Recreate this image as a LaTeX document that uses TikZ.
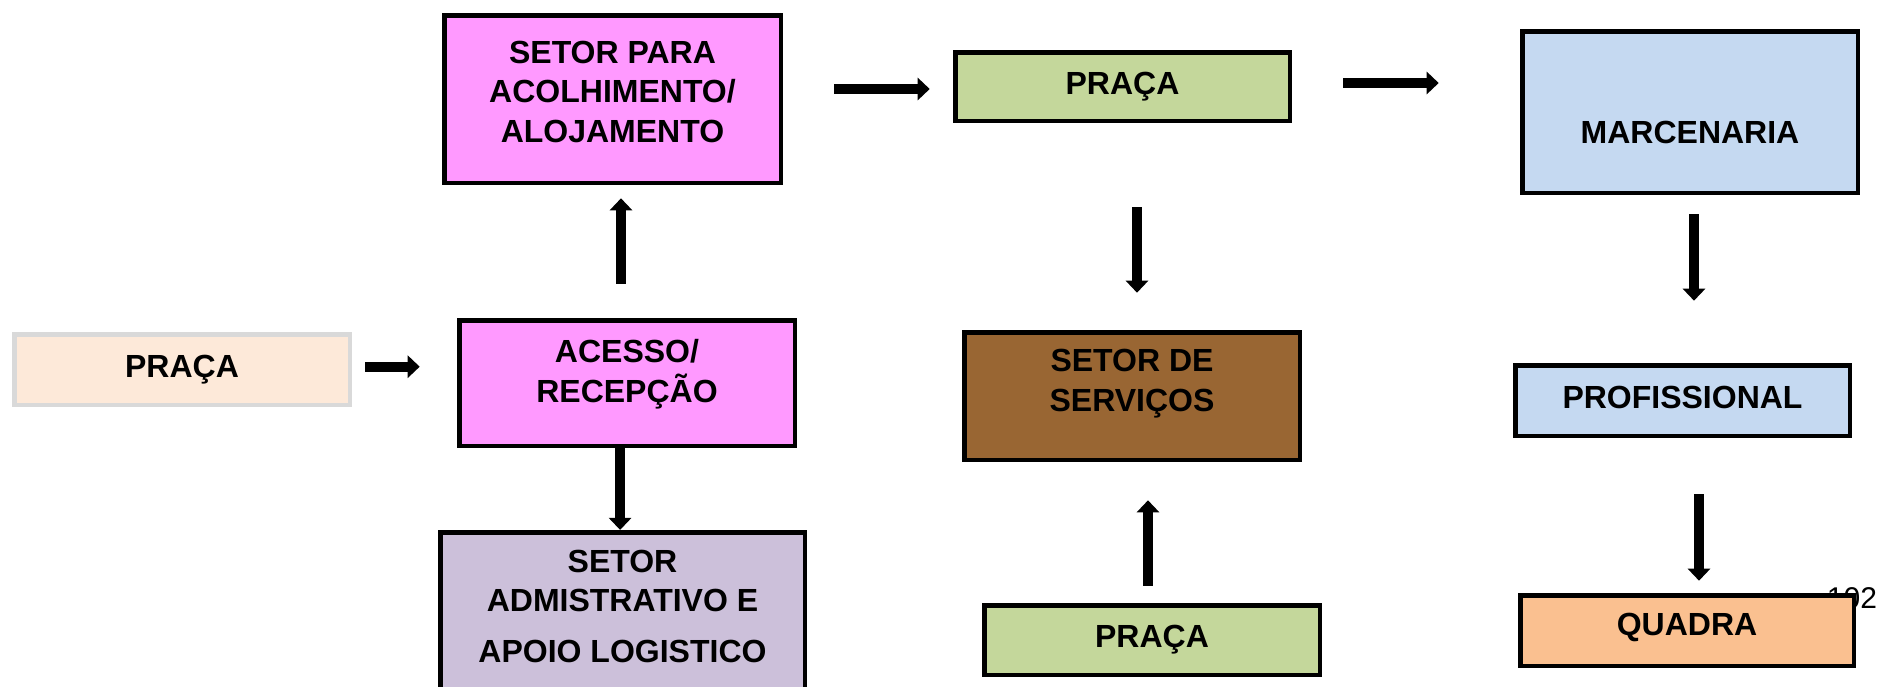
\documentclass[tikz,border=0pt]{standalone}
\usepackage{fontspec}
\setmainfont{Liberation Sans}
\usepackage{tikz}
\usetikzlibrary{arrows.meta}
\definecolor{pinkbox}{HTML}{FF99FF}
\definecolor{lilacbox}{HTML}{CCC0DA}
\definecolor{greenbox}{HTML}{C4D79B}
\definecolor{brownbox}{HTML}{996633}
\definecolor{bluebox}{HTML}{C5D9F1}
\definecolor{orangebox}{HTML}{FAC090}
\definecolor{peachbox}{HTML}{FDE9D9}
\definecolor{greyline}{HTML}{D9D9D9}

\begin{document}
\begin{tikzpicture}[x=0.5pt, y=-0.5pt,
        box/.style={draw, line width=2.3pt, inner sep=0pt, align=center,
            minimum width=167.8pt, font=\bfseries\fontsize{16}{19.75}\selectfont},
        flow/.style={line width=5pt, -{Triangle[length=6pt, width=11pt]}}]
        \useasboundingbox (0,0) rectangle (1883,686);
        \clip (0,0) rectangle (1883,686);

        % page number, partly under the last box
        \node[anchor=base east, font=\fontsize{15}{18}\selectfont] (pgnum) at (1884,608) {102};

        % left column
        \node[box, draw=greyline, fill=peachbox, minimum height=35.3pt] (praca1) at (182,369.5) {PRAÇA};
        \node[box, fill=pinkbox, minimum height=62.8pt, text depth=12pt] (acesso) at (627,383) {ACESSO/\\RECEPÇÃO};
        \node[box, fill=pinkbox, minimum width=168.3pt, minimum height=83.8pt, text depth=7.5pt] (acolhe) at (612.5,99) {SETOR PARA\\ACOLHIMENTO/\\ALOJAMENTO};
        \node[box, fill=lilacbox, minimum width=182.3pt, minimum height=82.8pt, text depth=9pt] (admin) at (622.5,615) {SETOR\\ADMISTRATIVO E\\[5.5pt]APOIO LOGISTICO};

        % middle column
        \node[box, fill=greenbox, minimum width=167.3pt, minimum height=34.3pt] (pracaTop) at (1122.5,86.5) {PRAÇA};
        \node[box, fill=brownbox, minimum height=63.8pt, text depth=15.5pt] (servicos) at (1132,396) {SETOR DE\\SERVIÇOS};
        \node[box, fill=greenbox, minimum height=34.8pt] (pracaBot) at (1152,640) {PRAÇA};

        % right column
        \node[box, fill=bluebox, minimum height=80.8pt, text height=31pt, text depth=0pt] (marcenaria) at (1690,112) {MARCENARIA};
        \node[box, fill=bluebox, minimum width=167.3pt, minimum height=35.3pt, text depth=3.4pt] (profissional) at (1682.5,400.5) {PROFISSIONAL};
        \node[box, fill=orangebox, minimum width=166.8pt, minimum height=35.3pt, text depth=6.5pt] (quadra) at (1687,630.5) {QUADRA};

        % arrows
        \draw[flow, shorten <=6.6pt, shorten >=18.6pt] ([yshift=1.4pt]praca1.east) -- ([yshift=1.4pt]praca1.east -| acesso.west);
        \draw[flow, shorten <=17pt, shorten >=6.6pt] ([xshift=-3pt]acesso.north) -- ([xshift=-3pt]acesso.north |- acolhe.south);
        \draw[flow] ([xshift=-1.2pt]admin.north |- acesso.south) -- ([xshift=-1.2pt]admin.north);
        \draw[flow, shorten <=25.6pt, shorten >=11.6pt] ([yshift=-1.25pt]acolhe.east |- pracaTop.west) -- ([yshift=-1.25pt]pracaTop.west);
        \draw[flow, shorten <=25.6pt, shorten >=40.6pt] ([yshift=1.75pt]pracaTop.east) -- ([yshift=1.75pt]pracaTop.east -| marcenaria.west);
        \draw[flow, shorten <=42.1pt, shorten >=18.6pt] ([xshift=2.5pt]servicos.north |- pracaTop.south) -- ([xshift=2.5pt]servicos.north);
        \draw[flow, shorten <=8.6pt, shorten >=19.1pt] ([xshift=-2pt]pracaBot.north) -- ([xshift=-2pt]pracaBot.north |- servicos.south);
        \draw[flow, shorten <=9.6pt, shorten >=31.1pt] ([xshift=2pt]marcenaria.south) -- ([xshift=2pt]marcenaria.south |- profissional.north);
        \draw[flow, shorten <=28.1pt, shorten >=6.1pt] ([xshift=6pt]quadra.north |- profissional.south) -- ([xshift=6pt]quadra.north);
\end{tikzpicture}
\end{document}
